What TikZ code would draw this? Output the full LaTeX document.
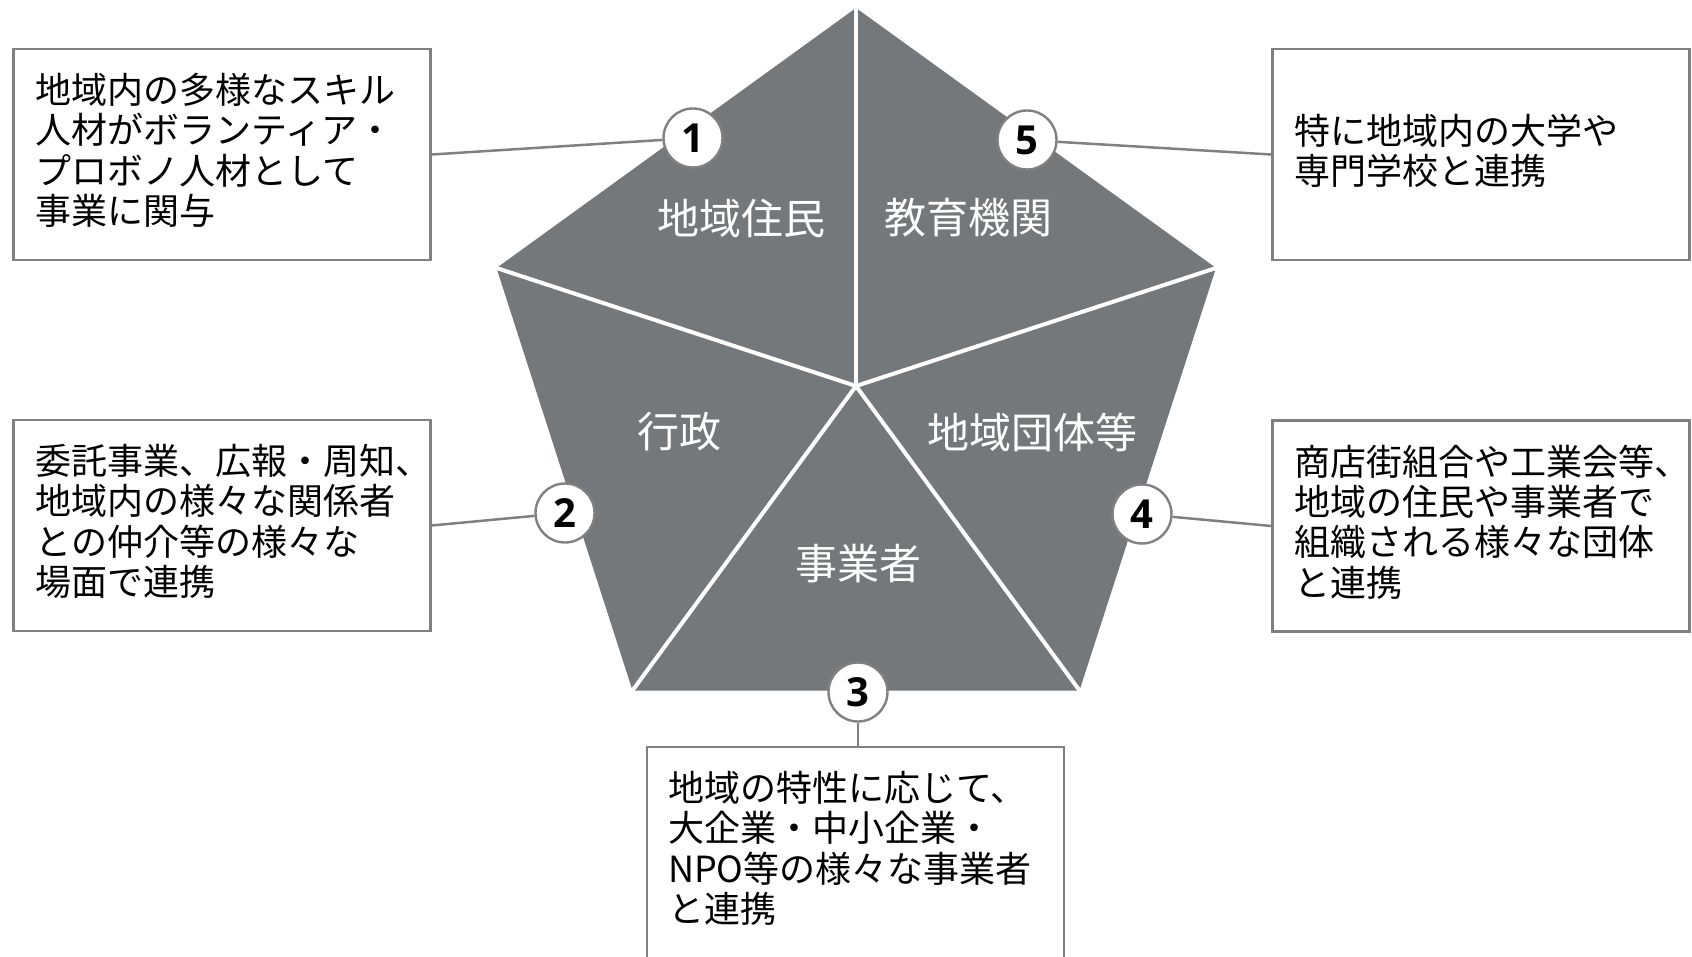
\documentclass[tikz,border=0pt]{standalone}
\usepackage{fontspec}
\setmainfont{Noto Sans CJK JP}
\newfontfamily\numfont{Open Sans}
\definecolor{pent}{RGB}{117,120,123}
\definecolor{edgegray}{RGB}{128,128,128}
\begin{document}
\begin{tikzpicture}[x=0.5pt,y=-0.5pt,
  box/.style={draw=edgegray, line width=1.25pt, minimum width=208.5pt, minimum height=105.5pt, inner sep=0pt},
  desc/.style={anchor=west, align=left, inner sep=0pt, text=black, font=\fontsize{18pt}{20.2pt}\selectfont},
  num/.style={circle, draw=edgegray, fill=white, line width=1.2pt, minimum size=29.5pt, inner sep=0pt, font=\numfont\bfseries\fontsize{20pt}{20pt}\selectfont},
  seg/.style={text=white, inner sep=0pt, font=\fontsize{21pt}{21pt}\selectfont},
  conn/.style={draw=edgegray, line width=1.25pt},
  divider/.style={draw=white, line width=2pt}
]
\useasboundingbox (0,0) rectangle (1692,957);
% pentagon
\coordinate (O) at (856,386);
\coordinate (P1) at (856,8);
\coordinate (P2) at (496.5,268);
\coordinate (P3) at (632.5,690.5);
\coordinate (P4) at (1079.5,690.5);
\coordinate (P5) at (1216,268);
\fill[pent] (P1) -- (P2) -- (P3) -- (P4) -- (P5) -- cycle;
\draw[divider] (O) -- (P1);
\draw[divider] (O) -- (P2);
\draw[divider] (O) -- (P3);
\draw[divider] (O) -- (P4);
\draw[divider] (O) -- (P5);
% segment labels
\node[seg] (s1) at (741,218) {地域住民};
\node[seg] (s5) at (968,218) {教育機関};
\node[seg] (s2) at (679,432) {行政};
\node[seg] (s4) at (1032,432) {地域団体等};
\node[seg] (s3) at (858,564) {事業者};
% boxes
\node[box] (b1) at (222,154.5) {};
\node[box] (b5) at (1481,154.5) {};
\node[box] (b2) at (222,525.5) {};
\node[box] (b4) at (1481,526) {};
\node[box] (b3) at (855.5,852.5) {};
\node[desc] (t1) at ([xshift=11.5pt,yshift=2pt]b1.west) {地域内の多様なスキル\\人材がボランティア・\\プロボノ人材として\\事業に関与};
\node[desc] (t5) at ([xshift=11.5pt,yshift=2pt]b5.west) {特に地域内の大学や\\専門学校と連携};
\node[desc] (t2) at ([xshift=11.5pt,yshift=2pt]b2.west) {委託事業、広報・周知、\\地域内の様々な関係者\\との仲介等の様々な\\場面で連携};
\node[desc] (t4) at ([xshift=11.5pt,yshift=2pt]b4.west) {商店街組合や工業会等、\\地域の住民や事業者で\\組織される様々な団体\\と連携};
\node[desc] (t3) at ([xshift=11pt,yshift=2pt]b3.west) {地域の特性に応じて、\\大企業・中小企業・\\NPO等の様々な事業者\\と連携};
% number circles
\node[num] (c1) at (693,138) {1};
\node[num] (c5) at (1027,140) {5};
\node[num] (c2) at (565,513) {2};
\node[num] (c4) at (1142,514) {4};
\node[num] (c3) at (858,692) {3};
% connectors
\draw[conn] (c1) -- (b1.east);
\draw[conn] (c5) -- (b5.west);
\draw[conn] (c2) -- (b2.east);
\draw[conn] (c4) -- (b4.west);
\draw[conn] (c3.south) -- (c3.south |- b3.north);
\end{tikzpicture}
\end{document}
